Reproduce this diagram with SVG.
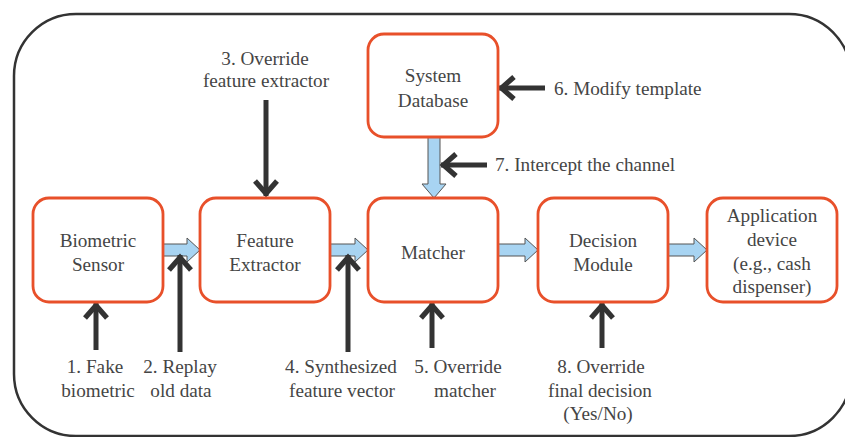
<svg xmlns="http://www.w3.org/2000/svg" width="845" height="437" viewBox="0 0 845 437">
<defs>
<marker id="chev" viewBox="-20 -14 24 28" refX="0" refY="0" markerWidth="24" markerHeight="28" markerUnits="userSpaceOnUse" orient="auto">
<path d="M-15,-11 L-2.5,0 L-15,11" fill="none" stroke="#333" stroke-width="5.2" stroke-linejoin="miter" stroke-miterlimit="3"/>
</marker>
</defs>
<style>
.node rect{fill:#fff;stroke:#e8502a;stroke-width:2.8}
.blk{fill:#a8d4f2;stroke:#555;stroke-width:1}
.atk{stroke:#333;stroke-width:5;fill:none;marker-end:url(#chev)}
</style>
<rect x="14" y="14" width="837" height="422" rx="62" fill="none" stroke="#333" stroke-width="2.5"/>

<g id="connectors">
<path class="blk" d="M163,244 H187 V238 L200,250 L187,262 V256 H163 Z"/>
<path class="blk" d="M330,244 H355 V238 L368,250 L355,262 V256 H330 Z"/>
<path class="blk" d="M498,244 H525 V238 L538,250 L525,262 V256 H498 Z"/>
<path class="blk" d="M668,244 H694 V238 L707,250 L694,262 V256 H668 Z"/>
<path class="blk" d="M428,137 V184 H422 L434,198 L446,184 H440 V137 Z"/>
<line class="atk" x1="96" y1="350" x2="96" y2="303"/>
<line class="atk" x1="180" y1="352" x2="180" y2="255"/>
<line class="atk" x1="266" y1="100" x2="266" y2="196"/>
<line class="atk" x1="348" y1="352" x2="348" y2="255"/>
<line class="atk" x1="432" y1="348" x2="432" y2="303"/>
<line class="atk" x1="602" y1="348" x2="602" y2="303"/>
<line class="atk" x1="545" y1="88" x2="499" y2="88"/>
<line class="atk" x1="487" y1="165" x2="441" y2="165"/>
</g>

<g font-family="'Liberation Serif', 'Times New Roman', serif" font-size="19.2" fill="#454545" text-anchor="middle">
<g id="sensor" class="node"><rect x="33" y="198" width="130" height="104" rx="16"/><text x="98" y="247">Biometric</text><text x="98" y="271">Sensor</text></g>
<g id="extractor" class="node"><rect x="200" y="198" width="130" height="104" rx="16"/><text x="265" y="247">Feature</text><text x="265" y="271">Extractor</text></g>
<g id="matcher" class="node"><rect x="368" y="198" width="130" height="104" rx="16"/><text x="433" y="259">Matcher</text></g>
<g id="decision" class="node"><rect x="538" y="198" width="130" height="104" rx="16"/><text x="603" y="247">Decision</text><text x="603" y="271">Module</text></g>
<g id="application" class="node"><rect x="707" y="198" width="130" height="104" rx="16"/><text x="772" y="222">Application</text><text x="772" y="246">device</text><text x="772" y="270">(e.g., cash</text><text x="772" y="293">dispenser)</text></g>
<g id="database" class="node"><rect x="368" y="34" width="130" height="103" rx="16"/><text x="433" y="82">System</text><text x="433" y="107">Database</text></g>

<g id="labels">
<text x="265" y="65">3. Override</text><text x="266" y="87">feature extractor</text>
<text text-anchor="start" x="554" y="95">6. Modify template</text>
<text text-anchor="start" x="495" y="171">7. Intercept the channel</text>
<text x="95" y="373">1. Fake</text><text x="98" y="397">biometric</text>
<text x="180" y="373">2. Replay</text><text x="181" y="397">old data</text>
<text x="341" y="373">4. Synthesized</text><text x="342" y="397">feature vector</text>
<text x="458" y="373">5. Override</text><text x="465" y="397">matcher</text>
<text x="601" y="373">8. Override</text><text x="600" y="397">final decision</text><text x="598" y="420">(Yes/No)</text>
</g>
</g>
</svg>
